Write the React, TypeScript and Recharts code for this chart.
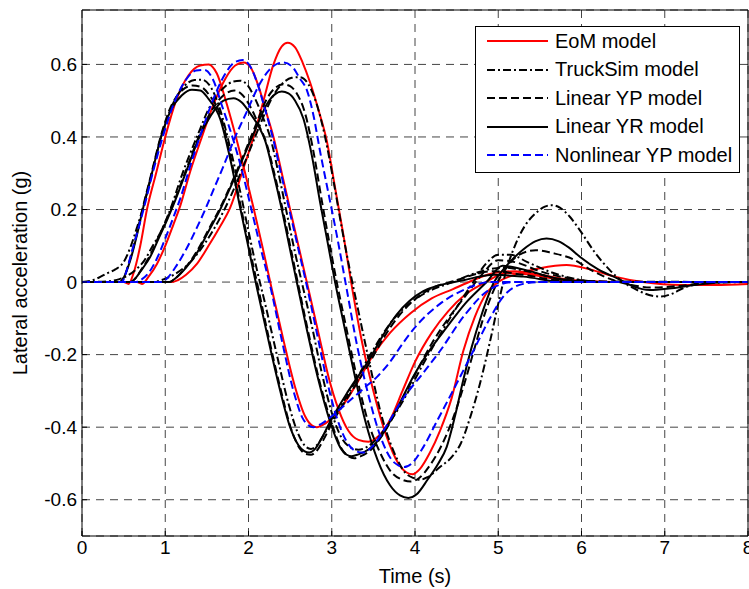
import { LineChart, Line, XAxis, YAxis, CartesianGrid, Legend } from 'recharts';

type Pt = [number, number];

const xTicks = [0, 1, 2, 3, 4, 5, 6, 7, 8];
const yTicks = [-0.6, -0.4, -0.2, 0, 0.2, 0.4, 0.6];

// three manoeuvres (A early, B middle, C late) for every model, [time s, lateral acc g]
const eomA: Pt[] = [[0,0],[0.5,0],[0.56,-0.005],[0.62,0.025],[0.7,0.1],[0.78,0.2],[0.89,0.3],[1.0,0.4],[1.13,0.5],[1.28,0.57],[1.42,0.597],[1.52,0.6],[1.62,0.575],[1.74,0.49],[1.86,0.39],[1.96,0.3],[2.06,0.205],[2.17,0.095],[2.28,-0.02],[2.42,-0.16],[2.56,-0.29],[2.68,-0.37],[2.76,-0.395],[2.82,-0.4],[2.92,-0.39],[3.1,-0.35],[3.3,-0.28],[3.5,-0.2],[3.7,-0.14],[3.95,-0.085],[4.2,-0.045],[4.45,-0.02],[4.7,0.005],[4.95,0.025],[5.2,0.03],[5.5,0.02],[5.9,0.005],[6.4,0],[8,0]];
const eomB: Pt[] = [[0,0],[0.66,0],[0.72,-0.005],[0.8,0.015],[0.9,0.05],[1.0,0.1],[1.1,0.16],[1.18,0.21],[1.3,0.305],[1.44,0.4],[1.58,0.49],[1.72,0.56],[1.84,0.597],[1.94,0.605],[2.03,0.59],[2.12,0.54],[2.21,0.47],[2.3,0.4],[2.4,0.3],[2.5,0.2],[2.61,0.09],[2.72,-0.02],[2.84,-0.14],[2.96,-0.26],[3.08,-0.35],[3.2,-0.41],[3.32,-0.435],[3.44,-0.44],[3.56,-0.425],[3.7,-0.38],[3.85,-0.3],[4.0,-0.22],[4.2,-0.14],[4.4,-0.08],[4.6,-0.035],[4.85,0],[5.1,0.025],[5.4,0.02],[5.8,0.005],[6.3,0],[8,0]];
const eomC: Pt[] = [[0,0],[1.08,0],[1.15,0.005],[1.25,0.02],[1.38,0.05],[1.52,0.1],[1.65,0.15],[1.78,0.205],[1.92,0.3],[2.06,0.4],[2.18,0.5],[2.3,0.6],[2.4,0.65],[2.47,0.66],[2.56,0.647],[2.65,0.605],[2.74,0.55],[2.84,0.475],[2.94,0.39],[3.04,0.26],[3.14,0.13],[3.24,-0.01],[3.35,-0.15],[3.5,-0.3],[3.65,-0.42],[3.8,-0.5],[3.9,-0.525],[3.97,-0.53],[4.06,-0.515],[4.18,-0.47],[4.3,-0.41],[4.44,-0.32],[4.58,-0.19],[4.72,-0.095],[4.86,-0.03],[5.0,0],[5.22,0.022],[5.5,0.038],[5.82,0.047],[6.1,0.035],[6.4,0.015],[6.74,0],[7.2,-0.008],[7.6,-0.008],[8,-0.005]];

const tsA: Pt[] = [[0,0],[0.1,0.003],[0.2,0.012],[0.3,0.024],[0.4,0.035],[0.5,0.055],[0.58,0.095],[0.66,0.15],[0.74,0.21],[0.85,0.31],[0.95,0.4],[1.08,0.485],[1.22,0.538],[1.35,0.557],[1.44,0.558],[1.54,0.54],[1.66,0.475],[1.78,0.37],[1.9,0.25],[2.0,0.14],[2.1,0.035],[2.2,-0.06],[2.34,-0.2],[2.48,-0.335],[2.6,-0.42],[2.68,-0.452],[2.75,-0.46],[2.82,-0.45],[2.92,-0.415],[3.02,-0.375],[3.22,-0.3],[3.45,-0.205],[3.75,-0.1],[4.05,-0.04],[4.45,0],[4.8,0.03],[5.05,0.04],[5.35,0.03],[5.8,0.005],[6.3,0],[8,0]];
const tsB: Pt[] = [[0,0],[0.3,0.002],[0.45,0.008],[0.55,0.018],[0.65,0.035],[0.75,0.06],[0.85,0.1],[0.95,0.14],[1.06,0.2],[1.2,0.295],[1.38,0.4],[1.55,0.49],[1.7,0.535],[1.82,0.553],[1.9,0.555],[1.98,0.545],[2.08,0.505],[2.18,0.45],[2.26,0.4],[2.36,0.3],[2.46,0.19],[2.56,0.08],[2.65,-0.01],[2.76,-0.12],[2.88,-0.25],[3.0,-0.36],[3.12,-0.43],[3.22,-0.455],[3.32,-0.462],[3.42,-0.455],[3.55,-0.43],[3.7,-0.385],[3.9,-0.31],[4.1,-0.225],[4.3,-0.145],[4.5,-0.07],[4.7,0],[4.85,0.05],[5.0,0.075],[5.15,0.075],[5.35,0.055],[5.6,0.03],[5.9,0.01],[6.3,0],[8,0]];
const tsC: Pt[] = [[0,0],[0.85,0],[0.95,0.005],[1.1,0.02],[1.3,0.055],[1.5,0.115],[1.7,0.195],[1.85,0.27],[2.0,0.355],[2.15,0.44],[2.3,0.515],[2.42,0.55],[2.52,0.563],[2.62,0.565],[2.72,0.545],[2.82,0.49],[2.92,0.4],[3.02,0.28],[3.12,0.15],[3.22,0.03],[3.32,-0.08],[3.45,-0.22],[3.6,-0.37],[3.75,-0.47],[3.88,-0.525],[3.98,-0.54],[4.06,-0.545],[4.15,-0.538],[4.3,-0.51],[4.45,-0.48],[4.55,-0.445],[4.66,-0.375],[4.78,-0.28],[4.9,-0.165],[5.0,-0.06],[5.1,0.035],[5.2,0.1],[5.32,0.155],[5.45,0.19],[5.56,0.208],[5.64,0.212],[5.74,0.205],[5.86,0.18],[5.98,0.143],[6.15,0.085],[6.34,0.033],[6.5,0],[6.67,-0.022],[6.85,-0.038],[6.95,-0.04],[7.08,-0.033],[7.22,-0.017],[7.5,-0.003],[8,0]];

const ypA: Pt[] = [[0,0],[0.45,0],[0.5,0.012],[0.58,0.065],[0.66,0.135],[0.73,0.205],[0.84,0.305],[0.95,0.405],[1.07,0.485],[1.2,0.528],[1.33,0.542],[1.43,0.538],[1.53,0.515],[1.67,0.455],[1.79,0.34],[1.91,0.205],[2.01,0.095],[2.12,-0.02],[2.24,-0.15],[2.38,-0.29],[2.52,-0.41],[2.62,-0.46],[2.69,-0.474],[2.75,-0.476],[2.82,-0.465],[2.9,-0.435],[3.0,-0.39],[3.2,-0.315],[3.46,-0.22],[3.62,-0.155],[3.8,-0.095],[4.1,-0.03],[4.5,0.005],[4.95,0.03],[5.3,0.02],[5.8,0.003],[8,0]];
const ypB: Pt[] = [[0,0],[0.58,0],[0.64,0.01],[0.72,0.037],[0.82,0.075],[0.92,0.125],[1.02,0.175],[1.12,0.23],[1.26,0.315],[1.41,0.405],[1.55,0.47],[1.7,0.515],[1.83,0.528],[1.93,0.515],[2.03,0.48],[2.13,0.43],[2.22,0.38],[2.32,0.29],[2.42,0.19],[2.51,0.09],[2.6,-0.01],[2.72,-0.14],[2.86,-0.28],[3.0,-0.39],[3.12,-0.46],[3.2,-0.48],[3.27,-0.486],[3.35,-0.48],[3.48,-0.46],[3.6,-0.425],[3.8,-0.345],[4.0,-0.255],[4.2,-0.17],[4.4,-0.1],[4.6,-0.04],[4.8,0.02],[5.0,0.06],[5.2,0.055],[5.5,0.03],[5.9,0.008],[6.3,0],[8,0]];
const ypC: Pt[] = [[0,0],[1.05,0],[1.12,0.01],[1.25,0.042],[1.38,0.085],[1.52,0.145],[1.66,0.205],[1.8,0.275],[1.95,0.355],[2.1,0.44],[2.22,0.505],[2.33,0.537],[2.42,0.545],[2.5,0.54],[2.58,0.52],[2.68,0.465],[2.78,0.36],[2.88,0.225],[2.97,0.11],[3.06,0],[3.16,-0.11],[3.28,-0.24],[3.43,-0.38],[3.58,-0.47],[3.72,-0.525],[3.85,-0.545],[3.95,-0.55],[4.05,-0.54],[4.18,-0.505],[4.32,-0.45],[4.45,-0.38],[4.58,-0.29],[4.7,-0.195],[4.82,-0.1],[4.95,-0.02],[5.1,0.04],[5.25,0.075],[5.45,0.088],[5.65,0.08],[5.9,0.063],[6.1,0.035],[6.35,0.008],[6.6,-0.008],[6.85,-0.015],[7.2,-0.01],[7.6,0],[8,0]];

const yrA: Pt[] = [[0,0],[0.45,0],[0.5,0.012],[0.58,0.06],[0.66,0.13],[0.73,0.2],[0.84,0.3],[0.95,0.4],[1.07,0.475],[1.2,0.515],[1.32,0.53],[1.42,0.528],[1.52,0.505],[1.66,0.45],[1.78,0.34],[1.9,0.205],[2.0,0.095],[2.1,-0.015],[2.22,-0.14],[2.36,-0.28],[2.5,-0.4],[2.6,-0.45],[2.67,-0.466],[2.73,-0.47],[2.8,-0.46],[2.88,-0.43],[2.98,-0.385],[3.2,-0.3],[3.46,-0.21],[3.62,-0.145],[3.78,-0.09],[4.1,-0.025],[4.58,0.005],[4.95,0.02],[5.3,0.015],[5.8,0],[8,0]];
const yrB: Pt[] = [[0,0],[0.58,0],[0.64,0.01],[0.72,0.035],[0.82,0.07],[0.92,0.12],[1.02,0.17],[1.12,0.225],[1.26,0.31],[1.41,0.4],[1.55,0.46],[1.7,0.5],[1.82,0.507],[1.92,0.495],[2.02,0.465],[2.12,0.43],[2.2,0.39],[2.3,0.3],[2.4,0.2],[2.49,0.1],[2.58,0],[2.7,-0.13],[2.84,-0.27],[2.98,-0.385],[3.1,-0.455],[3.18,-0.476],[3.24,-0.48],[3.32,-0.475],[3.45,-0.46],[3.58,-0.43],[3.78,-0.35],[3.98,-0.26],[4.2,-0.18],[4.38,-0.125],[4.6,-0.06],[4.86,0],[5.05,0.045],[5.3,0.035],[5.7,0.01],[6.2,0],[8,0]];
const yrC: Pt[] = [[0,0],[1.05,0],[1.12,0.01],[1.25,0.04],[1.38,0.08],[1.52,0.14],[1.66,0.2],[1.8,0.27],[1.95,0.35],[2.1,0.43],[2.22,0.49],[2.32,0.518],[2.4,0.525],[2.48,0.52],[2.56,0.5],[2.66,0.45],[2.76,0.35],[2.86,0.22],[2.95,0.11],[3.04,0],[3.14,-0.11],[3.25,-0.23],[3.4,-0.38],[3.55,-0.49],[3.7,-0.56],[3.82,-0.588],[3.92,-0.595],[4.02,-0.585],[4.15,-0.545],[4.28,-0.5],[4.38,-0.455],[4.48,-0.37],[4.58,-0.27],[4.68,-0.18],[4.8,-0.09],[4.95,0],[5.1,0.045],[5.3,0.09],[5.45,0.113],[5.58,0.12],[5.72,0.113],[5.85,0.095],[5.98,0.07],[6.2,0.035],[6.43,0.01],[6.62,-0.012],[6.82,-0.022],[7.05,-0.018],[7.35,-0.008],[7.8,0],[8,0]];

const nlA: Pt[] = [[0,0],[0.48,0],[0.52,0.02],[0.6,0.085],[0.68,0.15],[0.75,0.21],[0.86,0.31],[0.97,0.4],[1.1,0.49],[1.24,0.555],[1.37,0.583],[1.47,0.585],[1.57,0.56],[1.69,0.48],[1.82,0.39],[1.93,0.3],[2.03,0.205],[2.15,0.09],[2.27,-0.02],[2.4,-0.16],[2.54,-0.3],[2.65,-0.375],[2.72,-0.395],[2.78,-0.4],[2.88,-0.39],[3.0,-0.37],[3.2,-0.33],[3.4,-0.29],[3.55,-0.26],[3.7,-0.22],[3.85,-0.17],[4.0,-0.125],[4.3,-0.06],[4.6,-0.02],[4.9,0],[8,0]];
const nlB: Pt[] = [[0,0],[0.64,0],[0.7,0.005],[0.8,0.025],[0.9,0.065],[1.0,0.12],[1.1,0.18],[1.18,0.23],[1.3,0.32],[1.43,0.41],[1.57,0.5],[1.71,0.57],[1.83,0.605],[1.93,0.612],[2.02,0.595],[2.11,0.545],[2.2,0.475],[2.29,0.4],[2.39,0.3],[2.49,0.2],[2.6,0.09],[2.71,-0.02],[2.83,-0.15],[2.95,-0.28],[3.07,-0.38],[3.18,-0.44],[3.28,-0.465],[3.37,-0.47],[3.48,-0.455],[3.62,-0.41],[3.86,-0.32],[4.1,-0.25],[4.3,-0.19],[4.6,-0.09],[4.9,-0.02],[5.2,0],[8,0]];
const nlC: Pt[] = [[0,0],[0.95,0],[1.02,0.01],[1.12,0.04],[1.25,0.09],[1.38,0.15],[1.48,0.2],[1.58,0.255],[1.7,0.32],[1.84,0.4],[1.98,0.47],[2.12,0.54],[2.25,0.585],[2.35,0.602],[2.42,0.605],[2.52,0.595],[2.62,0.56],[2.7,0.53],[2.78,0.46],[2.86,0.36],[2.96,0.245],[3.06,0.13],[3.18,-0.02],[3.3,-0.17],[3.45,-0.32],[3.6,-0.435],[3.72,-0.49],[3.8,-0.505],[3.87,-0.51],[3.96,-0.5],[4.1,-0.455],[4.26,-0.385],[4.5,-0.28],[4.7,-0.19],[4.9,-0.1],[5.06,-0.04],[5.3,-0.005],[5.5,0],[8,0]];

const models = [
  { name: 'EoM model', color: '#ff0000', dash: undefined as string | undefined, runs: [eomA, eomB, eomC] },
  { name: 'TruckSim model', color: '#000000', dash: '8 3 2 3', runs: [tsA, tsB, tsC] },
  { name: 'Linear YP model', color: '#000000', dash: '8 4', runs: [ypA, ypB, ypC] },
  { name: 'Linear YR model', color: '#000000', dash: undefined, runs: [yrA, yrB, yrC] },
  { name: 'Nonlinear YP model', color: '#0000ff', dash: '8 4', runs: [nlA, nlB, nlC] },
];

const font = 'Liberation Sans, Arial, sans-serif';
const tickStyle = { fill: '#000', fontSize: 19, fontFamily: font };
const labelStyle = { fontSize: 20, fontFamily: font, fill: '#000' };

const toRows = (pts: Pt[]) => pts.map(([t, y]) => ({ t, y }));

function LegendBox() {
  return (
    <div style={{ border: '1px solid #000', background: '#fff', padding: '0 0 2px 0', fontFamily: font }}>
      {models.map((m) => (
        <div key={m.name} style={{ display: 'flex', alignItems: 'center', height: 28.5 }}>
          <svg width={61} height={10} style={{ marginLeft: 11, marginRight: 7 }}>
            <line x1={0} y1={5} x2={61} y2={5} stroke={m.color} strokeWidth={2} strokeDasharray={m.dash} />
          </svg>
          <span style={{ fontSize: 20, color: '#000', whiteSpace: 'nowrap' }}>{m.name}</span>
        </div>
      ))}
    </div>
  );
}

export default function App() {
  return (
    <div style={{ position: 'absolute', left: 0, top: 0, background: '#fff' }}>
      <LineChart width={749} height={589} margin={{ top: 0, right: 0, bottom: 0, left: 0 }}>
        <CartesianGrid stroke="#444" strokeDasharray="8 6" />
        <XAxis
          dataKey="t"
          type="number"
          domain={[0, 8]}
          ticks={xTicks}
          interval={0}
          height={53}
          tickSize={-5}
          tickMargin={10}
          stroke="#000"
          tick={tickStyle}
          label={{ value: 'Time (s)', position: 'insideBottom', offset: 6, style: labelStyle }}
        />
        <XAxis
          xAxisId="top"
          orientation="top"
          type="number"
          domain={[0, 8]}
          ticks={xTicks}
          interval={0}
          height={10}
          tickSize={-5}
          stroke="#000"
          tickFormatter={() => ''}
        />
        <YAxis
          type="number"
          domain={[-0.7, 0.75]}
          ticks={yTicks}
          interval={0}
          width={82}
          tickSize={-5}
          tickMargin={10}
          stroke="#000"
          tick={tickStyle}
          tickFormatter={(v: number) => (v === 0 ? '0' : v.toFixed(1))}
          label={{ value: 'Lateral acceleration (g)', angle: -90, position: 'insideLeft', offset: 20, style: { ...labelStyle, textAnchor: 'middle' } }}
        />
        <YAxis
          yAxisId="right"
          orientation="right"
          type="number"
          domain={[-0.7, 0.75]}
          ticks={yTicks}
          interval={0}
          width={1}
          tickSize={-5}
          stroke="#000"
          tickFormatter={() => ''}
        />
        <Legend
          layout="vertical"
          align="center"
          verticalAlign="middle"
          wrapperStyle={{ left: 475, top: 26, width: 265 }}
          content={() => <LegendBox />}
        />
        {models.map((m) =>
          m.runs.map((run, i) => (
            <Line
              key={m.name + i}
              data={toRows(run)}
              dataKey="y"
              type="monotone"
              stroke={m.color}
              strokeWidth={2}
              strokeDasharray={m.dash}
              dot={false}
              activeDot={false}
              legendType="none"
              isAnimationActive={false}
            />
          ))
        )}
      </LineChart>
    </div>
  );
}
